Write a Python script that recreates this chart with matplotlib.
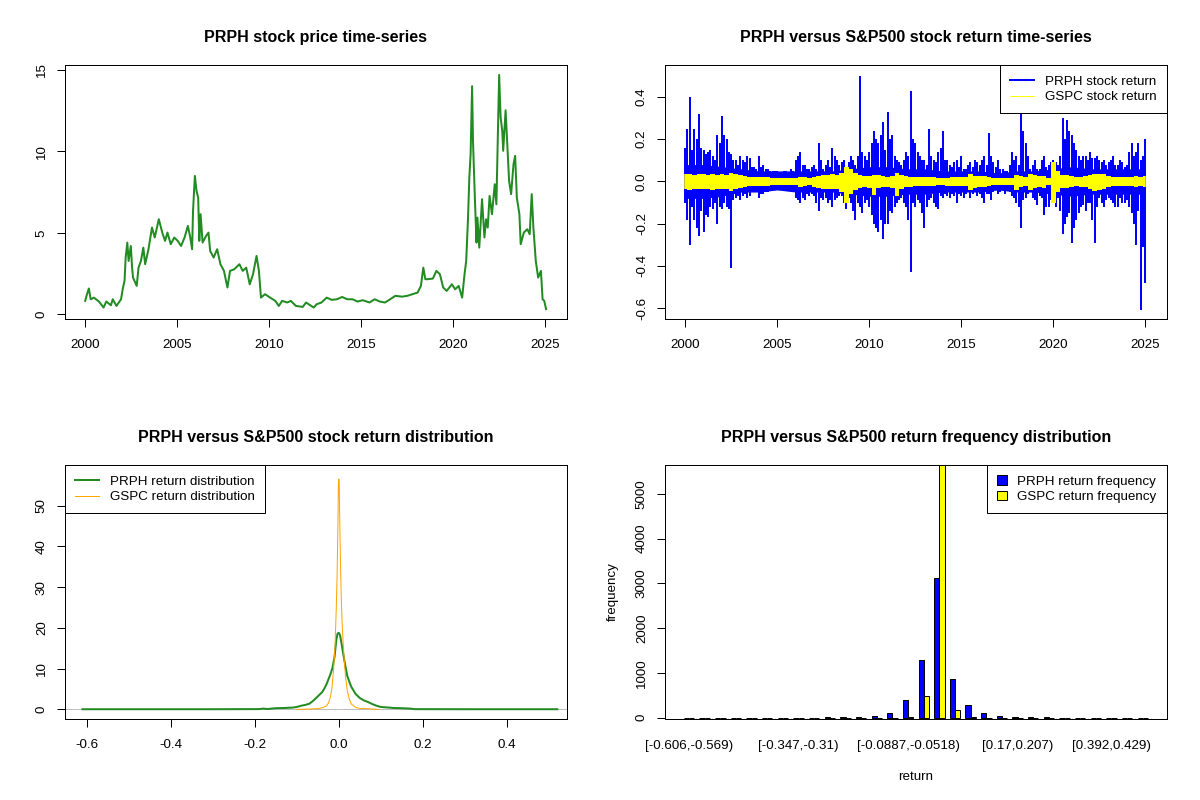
import numpy as np
import matplotlib
matplotlib.use("Agg")
import matplotlib.pyplot as plt
from matplotlib.lines import Line2D
from matplotlib.patches import Patch
from matplotlib.ticker import FormatStrFormatter

plt.rcParams["font.family"] = ["Liberation Sans", "DejaVu Sans"]
plt.rcParams["axes.unicode_minus"] = False

# ---- PRPH price (year, close)
price_year = [2000.0, 2000.1, 2000.2, 2000.3, 2000.47, 2000.75, 2001.0, 2001.15, 2001.4, 2001.5,
              2001.7, 2001.95, 2002.05, 2002.14, 2002.2, 2002.29, 2002.36, 2002.48, 2002.55, 2002.6,
              2002.8, 2002.9, 2003.03, 2003.16, 2003.26, 2003.44, 2003.63, 2003.78, 2004.0, 2004.19,
              2004.34, 2004.47, 2004.65, 2004.84, 2005.03, 2005.21, 2005.4, 2005.58, 2005.71, 2005.81,
              2005.86, 2005.96, 2006.05, 2006.14, 2006.2, 2006.27, 2006.38, 2006.57, 2006.7, 2006.79,
              2006.98, 2007.17, 2007.35, 2007.54, 2007.73, 2007.87, 2008.1, 2008.38, 2008.56, 2008.75,
              2008.94, 2009.12, 2009.31, 2009.44, 2009.55, 2009.77, 2010.05, 2010.33, 2010.52, 2010.7,
              2010.98, 2011.17, 2011.45, 2011.82, 2012.0, 2012.29, 2012.42, 2012.57, 2012.84, 2013.12,
              2013.4, 2013.68, 2013.96, 2014.24, 2014.52, 2014.8, 2015.08, 2015.45, 2015.73, 2016.0,
              2016.29, 2016.57, 2016.85, 2017.22, 2017.5, 2017.78, 2018.06, 2018.24, 2018.37, 2018.48,
              2018.61, 2018.89, 2019.08, 2019.27, 2019.45, 2019.64, 2019.92, 2020.1, 2020.29, 2020.48,
              2020.61, 2020.7, 2020.8, 2020.87, 2020.94, 2021.02, 2021.07, 2021.17, 2021.26, 2021.31,
              2021.41, 2021.56, 2021.69, 2021.78, 2021.87, 2021.97, 2022.1, 2022.25, 2022.34, 2022.43,
              2022.49, 2022.57, 2022.66, 2022.71, 2022.84, 2022.92, 2023.03, 2023.14, 2023.27, 2023.36,
              2023.45, 2023.59, 2023.66, 2023.83, 2024.02, 2024.15, 2024.26, 2024.35, 2024.48, 2024.61,
              2024.76, 2024.85, 2024.94, 2025.04]
price_close = [0.82, 1.23, 1.58, 0.92, 1.02, 0.78, 0.41, 0.78, 0.55, 0.92,
               0.51, 0.92, 1.6, 2.05, 3.48, 4.4, 3.27, 4.19, 2.86, 2.25,
               1.74, 2.86, 3.27, 4.09, 3.07, 3.99, 5.32, 4.71, 5.83, 5.01,
               4.5, 5.01, 4.3, 4.71, 4.5, 4.19, 4.71, 5.42, 4.71, 3.99,
               6.34, 8.49, 7.57, 7.16, 4.5, 6.14, 4.4, 4.81, 5.01, 3.89,
               3.48, 3.99, 3.07, 2.66, 1.64, 2.66, 2.76, 3.07, 2.66, 2.86,
               1.84, 2.46, 3.58, 2.66, 1.02, 1.23, 1.02, 0.82, 0.51, 0.82,
               0.72, 0.82, 0.51, 0.45, 0.72, 0.51, 0.41, 0.61, 0.72, 1.02,
               0.88, 0.92, 1.06, 0.92, 0.92, 0.78, 0.86, 0.72, 0.92, 0.78,
               0.72, 0.92, 1.13, 1.08, 1.13, 1.23, 1.33, 1.74, 2.86, 2.15,
               2.15, 2.19, 2.66, 2.46, 1.64, 1.43, 1.84, 1.53, 1.74, 1.02,
               2.46, 3.27, 5.93, 8.39, 9.82, 14.0, 10.6, 7.16, 4.4, 5.93,
               4.09, 7.06, 4.71, 5.83, 5.32, 7.26, 6.14, 7.98, 6.75, 11.46,
               14.69, 12.07, 11.25, 10.03, 12.52, 10.64, 8.19, 7.37, 9.21, 9.72,
               7.16, 6.14, 4.3, 5.01, 5.22, 4.91, 7.37, 5.32, 3.27, 2.25,
               2.66, 0.92, 0.82, 0.31]

# ---- daily returns, largest moves per quarter (2000.00 .. 2025.00)
ret_year = np.arange(101) * 0.25 + 2000
prph_hi = [0.16, 0.40, 0.25, 0.32, 0.15, 0.14, 0.12, 0.22, 0.31, 0.20, 0.13, 0.10,
           0.12, 0.09, 0.11, 0.07, 0.12, 0.08, 0.06, 0.05, 0.05, 0.04, 0.05, 0.06,
           0.10, 0.14, 0.08, 0.06, 0.08, 0.18, 0.06, 0.10, 0.16, 0.10, 0.09, 0.07,
           0.12, 0.08, 0.50, 0.12, 0.14, 0.24, 0.18, 0.28, 0.33, 0.22, 0.10, 0.08,
           0.14, 0.43, 0.18, 0.12, 0.10, 0.25, 0.10, 0.14, 0.24, 0.10, 0.07, 0.10,
           0.12, 0.06, 0.09, 0.10, 0.08, 0.12, 0.23, 0.09, 0.10, 0.06, 0.05, 0.14,
           0.12, 0.33, 0.18, 0.06, 0.10, 0.06, 0.12, 0.08, 0.10, 0.08, 0.30, 0.29,
           0.22, 0.15, 0.10, 0.12, 0.14, 0.11, 0.10, 0.10, 0.09, 0.12, 0.08, 0.09,
           0.08, 0.18, 0.14, 0.10, 0.20]
prph_lo = [-0.10, -0.30, -0.18, -0.26, -0.24, -0.17, -0.13, -0.20, -0.13, -0.12, -0.41, -0.08,
           -0.09, -0.06, -0.07, -0.05, -0.08, -0.06, -0.05, -0.04, -0.04, -0.03, -0.04, -0.05,
           -0.08, -0.10, -0.09, -0.07, -0.07, -0.14, -0.09, -0.10, -0.12, -0.08, -0.07, -0.13,
           -0.10, -0.18, -0.12, -0.10, -0.12, -0.20, -0.24, -0.27, -0.20, -0.15, -0.10, -0.08,
           -0.12, -0.43, -0.12, -0.10, -0.22, -0.09, -0.10, -0.13, -0.08, -0.07, -0.06, -0.10,
           -0.07, -0.06, -0.08, -0.05, -0.06, -0.10, -0.06, -0.05, -0.06, -0.04, -0.04, -0.07,
           -0.10, -0.22, -0.08, -0.05, -0.09, -0.07, -0.16, -0.12, -0.10, -0.08, -0.25, -0.17,
           -0.29, -0.18, -0.12, -0.14, -0.10, -0.29, -0.08, -0.12, -0.08, -0.10, -0.12, -0.10,
           -0.09, -0.15, -0.30, -0.61, -0.48]
# next-largest moves, mid-quarter (2000.125 .. 2024.875)
ret_year2 = np.arange(100) * 0.25 + 2000.125
prph_hi2 = [0.25, 0.15, 0.20, 0.16, 0.13, 0.15, 0.10, 0.18, 0.22, 0.14, 0.10, 0.08,
            0.10, 0.12, 0.07, 0.06, 0.07, 0.06, 0.05, 0.05, 0.04, 0.05, 0.04, 0.05,
            0.12, 0.08, 0.06, 0.07, 0.06, 0.10, 0.08, 0.07, 0.12, 0.08, 0.10, 0.09,
            0.10, 0.12, 0.14, 0.10, 0.18, 0.20, 0.22, 0.15, 0.20, 0.12, 0.09, 0.10,
            0.12, 0.20, 0.14, 0.10, 0.08, 0.12, 0.09, 0.16, 0.10, 0.08, 0.09, 0.07,
            0.06, 0.08, 0.07, 0.09, 0.10, 0.08, 0.12, 0.07, 0.06, 0.05, 0.08, 0.10,
            0.08, 0.24, 0.12, 0.08, 0.06, 0.10, 0.07, 0.09, 0.09, 0.12, 0.20, 0.24,
            0.18, 0.12, 0.12, 0.10, 0.11, 0.12, 0.09, 0.08, 0.10, 0.08, 0.10, 0.07,
            0.14, 0.12, 0.18, 0.12]
prph_lo2 = [-0.18, -0.12, -0.22, -0.14, -0.16, -0.12, -0.10, -0.12, -0.10, -0.13, -0.09, -0.07,
            -0.07, -0.08, -0.05, -0.05, -0.06, -0.05, -0.04, -0.04, -0.03, -0.04, -0.03, -0.04,
            -0.09, -0.08, -0.06, -0.06, -0.10, -0.08, -0.08, -0.09, -0.09, -0.07, -0.10, -0.08,
            -0.14, -0.10, -0.15, -0.09, -0.16, -0.22, -0.18, -0.20, -0.14, -0.12, -0.09, -0.10,
            -0.18, -0.10, -0.09, -0.15, -0.12, -0.08, -0.12, -0.07, -0.06, -0.08, -0.07, -0.06,
            -0.08, -0.05, -0.06, -0.07, -0.08, -0.06, -0.09, -0.04, -0.05, -0.06, -0.05, -0.08,
            -0.12, -0.09, -0.06, -0.08, -0.11, -0.08, -0.12, -0.09, -0.12, -0.14, -0.20, -0.15,
            -0.22, -0.15, -0.11, -0.10, -0.18, -0.12, -0.10, -0.09, -0.09, -0.12, -0.08, -0.10,
            -0.12, -0.20, -0.14, -0.31]
gspc_hi = [0.035, 0.035, 0.03, 0.035, 0.035, 0.03, 0.035, 0.03, 0.035, 0.03, 0.04, 0.035,
           0.03, 0.025, 0.02, 0.02, 0.02, 0.02, 0.02, 0.018, 0.018, 0.018, 0.018, 0.018,
           0.018, 0.02, 0.02, 0.018, 0.02, 0.025, 0.03, 0.03, 0.035, 0.03, 0.04, 0.07,
           0.06, 0.04, 0.03, 0.025, 0.025, 0.03, 0.03, 0.025, 0.02, 0.025, 0.04, 0.03,
           0.025, 0.02, 0.02, 0.02, 0.02, 0.02, 0.02, 0.018, 0.018, 0.018, 0.02, 0.02,
           0.02, 0.02, 0.035, 0.025, 0.025, 0.025, 0.02, 0.018, 0.015, 0.015, 0.015, 0.015,
           0.03, 0.025, 0.02, 0.035, 0.03, 0.025, 0.025, 0.018, 0.09, 0.05, 0.03, 0.03,
           0.025, 0.02, 0.02, 0.025, 0.03, 0.035, 0.035, 0.035, 0.025, 0.02, 0.02, 0.02,
           0.02, 0.02, 0.025, 0.02, 0.025]
gspc_lo = [-0.035, -0.04, -0.035, -0.035, -0.035, -0.035, -0.04, -0.035, -0.035, -0.035, -0.045, -0.035,
           -0.03, -0.025, -0.02, -0.02, -0.02, -0.02, -0.02, -0.018, -0.018, -0.018, -0.018, -0.018,
           -0.018, -0.025, -0.02, -0.018, -0.025, -0.03, -0.035, -0.035, -0.035, -0.035, -0.05, -0.10,
           -0.06, -0.04, -0.03, -0.025, -0.03, -0.066, -0.03, -0.025, -0.025, -0.03, -0.07, -0.035,
           -0.025, -0.025, -0.02, -0.02, -0.02, -0.02, -0.02, -0.018, -0.018, -0.02, -0.02, -0.02,
           -0.02, -0.02, -0.04, -0.03, -0.025, -0.025, -0.02, -0.018, -0.015, -0.015, -0.015, -0.015,
           -0.04, -0.025, -0.02, -0.04, -0.03, -0.025, -0.03, -0.018, -0.10, -0.05, -0.03, -0.03,
           -0.025, -0.02, -0.025, -0.025, -0.035, -0.045, -0.04, -0.035, -0.025, -0.02, -0.02, -0.02,
           -0.02, -0.02, -0.025, -0.02, -0.025]
# solid core of the PRPH band, per year 2000..2025
core_year = list(range(2000, 2026))
core_hi = [0.08, 0.08, 0.07, 0.06, 0.05, 0.05, 0.05, 0.05, 0.05, 0.06, 0.07, 0.07, 0.06,
           0.06, 0.05, 0.05, 0.05, 0.04, 0.05, 0.05, 0.06, 0.07, 0.06, 0.06, 0.06, 0.06]
core_lo = [-0.08, -0.08, -0.07, -0.05, -0.05, -0.04, -0.05, -0.05, -0.05, -0.06, -0.07, -0.07, -0.06,
           -0.06, -0.05, -0.05, -0.05, -0.04, -0.05, -0.05, -0.06, -0.07, -0.06, -0.06, -0.06, -0.06]

# ---- density curves
prph_dx = [-0.61, -0.30, -0.19, -0.18, -0.17, -0.15, -0.13, -0.11, -0.10, -0.09, -0.08, -0.07,
           -0.06, -0.05, -0.04, -0.035, -0.03, -0.025, -0.02, -0.015, -0.01, -0.006, -0.003, 0.0,
           0.003, 0.006, 0.01, 0.015, 0.02, 0.025, 0.03, 0.04, 0.05, 0.06, 0.07, 0.08, 0.09,
           0.10, 0.12, 0.13, 0.15, 0.17, 0.18, 0.30, 0.52]
prph_dy = [0.05, 0.05, 0.08, 0.2, 0.1, 0.3, 0.35, 0.45, 0.6, 0.9, 1.1, 1.4,
           2.2, 3.2, 4.2, 5.0, 6.0, 7.3, 8.6, 10.2, 13.0, 17.0, 18.6, 18.8,
           18.2, 16.5, 14.0, 11.0, 8.3, 6.8, 5.5, 3.8, 2.8, 2.2, 1.8, 1.3, 0.9,
           0.6, 0.45, 0.35, 0.3, 0.2, 0.07, 0.05, 0.05]
gspc_dx = [-0.10, -0.09, -0.07, -0.05, -0.04, -0.03, -0.025, -0.02, -0.016, -0.012, -0.009, -0.006,
           -0.004, -0.002, -0.001, 0.0, 0.001, 0.002, 0.004, 0.006, 0.008, 0.010, 0.013, 0.016,
           0.02, 0.025, 0.03, 0.04, 0.05, 0.07, 0.09, 0.095]
gspc_dy = [0.0, 0.05, 0.1, 0.2, 0.4, 0.8, 1.5, 3.0, 5.5, 10.5, 15.5, 25.0,
           33.0, 46.0, 55.0, 56.5, 55.5, 48.0, 36.0, 27.0, 21.0, 17.0, 12.0, 8.0,
           4.8, 2.5, 1.3, 0.5, 0.25, 0.15, 0.05, 0.0]

# ---- return frequency, 30 bins of width 0.03696 starting at -0.606
prph_freq = [1, 0, 0, 1, 0, 2, 1, 1, 3, 8, 14, 25, 48, 112, 404,
             1285, 3125, 874, 291, 112, 45, 22, 12, 8, 4, 2, 2, 1, 1, 1]
gspc_freq = [0, 0, 0, 0, 0, 0, 0, 0, 0, 0, 0, 0, 1, 3, 22,
             493, 5700, 179, 20, 2, 0, 0, 0, 0, 0, 0, 0, 0, 0, 0]
bin_labels = {0: "[-0.606,-0.569)", 7: "[-0.347,-0.31)", 14: "[-0.0887,-0.0518)",
              21: "[0.17,0.207)", 27: "[0.392,0.429)"}

PX = 0.72  # one R pixel in points at dpi 100
FS = 9.6
fig = plt.figure(figsize=(12, 8), dpi=100)
axes_pos = [[0.0544, 0.6015, 0.4177, 0.3169], [0.5544, 0.6015, 0.4177, 0.3169],
            [0.0544, 0.1015, 0.4177, 0.3169], [0.5544, 0.1015, 0.4177, 0.3169]]
ax1, ax2, ax3, ax4 = [fig.add_axes(p) for p in axes_pos]

for ax in (ax1, ax2, ax3, ax4):
    for s in ax.spines.values():
        s.set_linewidth(PX)
    ax.tick_params(length=5.5, width=PX, labelsize=FS, pad=9)
    ax.tick_params(axis="y", labelrotation=90, pad=7)


def title(ax, txt):
    ax.set_title(txt, fontsize=11.5, fontweight="bold", pad=17)


def r_legend(ax, handles, labels, loc, **kw):
    leg = ax.legend(handles, labels, loc=loc, fontsize=FS, frameon=True, fancybox=False,
                    edgecolor="black", framealpha=1, borderaxespad=0, borderpad=0.75,
                    labelspacing=0.25, **kw)
    leg.get_frame().set_linewidth(PX)
    leg.set_zorder(10)


# price
ax1.plot(price_year, price_close, color="forestgreen", lw=2 * PX)
ax1.set_xlim(1998.92, 2026.15)
ax1.set_ylim(-0.28, 15.28)
ax1.set_xticks([2000, 2005, 2010, 2015, 2020, 2025])
ax1.set_yticks([0, 5, 10, 15])
title(ax1, "PRPH stock price time-series")

# returns
ax2.fill_between(core_year, core_lo, core_hi, color="blue", lw=0, zorder=1)
ax2.vlines(ret_year, prph_lo, prph_hi, color="blue", lw=2 * PX, zorder=2)
ax2.vlines(ret_year2, prph_lo2, prph_hi2, color="blue", lw=2 * PX, zorder=2)
ax2.fill_between(ret_year, gspc_lo, gspc_hi, color="yellow", lw=0, step="mid", zorder=3)
ax2.vlines(ret_year, gspc_lo, gspc_hi, color="yellow", lw=1.5 * PX, zorder=3)
ax2.set_xlim(1998.92, 2026.15)
ax2.set_ylim(-0.65, 0.55)
ax2.set_xticks([2000, 2005, 2010, 2015, 2020, 2025])
ax2.set_yticks([-0.6, -0.4, -0.2, 0.0, 0.2, 0.4])
ax2.yaxis.set_major_formatter(FormatStrFormatter("%.1f"))
title(ax2, "PRPH versus S&P500 stock return time-series")
r_legend(ax2, [Line2D([], [], color="blue", lw=2 * PX), Line2D([], [], color="yellow", lw=PX)],
         ["PRPH stock return", "GSPC stock return"], "upper right",
         handlelength=1.8, handletextpad=0.85)

# density
ax3.axhline(0, color="#BEBEBE", lw=PX)
ax3.plot(prph_dx, prph_dy, color="forestgreen", lw=2 * PX)
ax3.plot(gspc_dx, gspc_dy, color="orange", lw=PX)
ax3.set_xlim(-0.651, 0.542)
ax3.set_ylim(-2.3, 59.9)
ax3.set_xticks([-0.6, -0.4, -0.2, 0.0, 0.2, 0.4])
ax3.set_yticks([0, 10, 20, 30, 40, 50])
ax3.xaxis.set_major_formatter(FormatStrFormatter("%.1f"))
title(ax3, "PRPH versus S&P500 stock return distribution")
r_legend(ax3, [Line2D([], [], color="forestgreen", lw=2 * PX), Line2D([], [], color="orange", lw=PX)],
         ["PRPH return distribution", "GSPC return distribution"], "upper left",
         handlelength=1.8, handletextpad=0.8)

# frequency bars
k = np.arange(len(prph_freq))
ax4.bar(3 * k + 1, prph_freq, width=1, align="edge", color="blue", edgecolor="black", lw=PX)
ax4.bar(3 * k + 2, gspc_freq, width=1, align="edge", color="yellow", edgecolor="black", lw=PX)
ax4.set_xlim(-2.56, 93.56)
ax4.set_ylim(-25, 5640)
ax4.set_xticks([3 * i + 2 for i in bin_labels])
ax4.set_xticklabels(list(bin_labels.values()))
ax4.tick_params(axis="x", length=0, pad=15)
ax4.set_yticks([0, 1000, 2000, 3000, 4000, 5000])
ax4.set_xlabel("return", fontsize=FS, labelpad=14)
ax4.set_ylabel("frequency", fontsize=FS, labelpad=12)
title(ax4, "PRPH versus S&P500 return frequency distribution")
r_legend(ax4, [Patch(facecolor="blue", edgecolor="black", lw=PX), Patch(facecolor="yellow", edgecolor="black", lw=PX)],
         ["PRPH return frequency", "GSPC return frequency"], "upper right",
         handlelength=0.7, handleheight=0.7, handletextpad=0.8)

for ax in (ax1, ax2, ax3, ax4):
    for lab in ax.get_yticklabels():
        lab.set_va("center")

fig.savefig("out.png", dpi=100)
